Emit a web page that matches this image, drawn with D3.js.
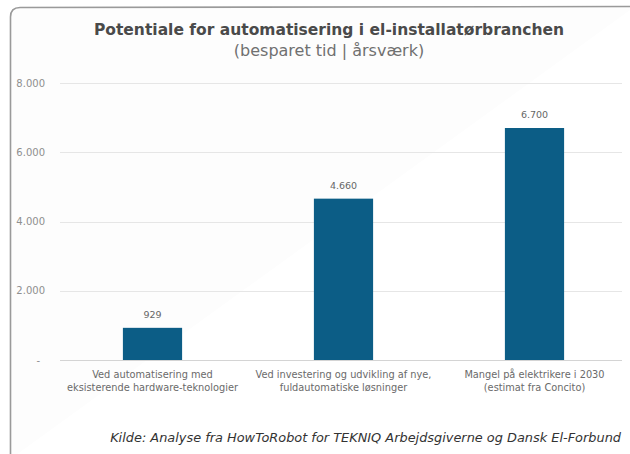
<!DOCTYPE html>
<html>
<head>
<meta charset="utf-8">
<script src="https://cdn.jsdelivr.net/npm/d3@7"></script>
<style>
  body { margin: 0; background: #fff; }
  svg { display: block; font-family: "DejaVu Sans", Verdana, sans-serif; }
</style>
</head>
<body>
<div id="chart"></div>
<script>
var categories = [
  ["Ved automatisering med", "eksisterende hardware-teknologier"],
  ["Ved investering og udvikling af nye,", "fuldautomatiske løsninger"],
  ["Mangel på elektrikere i 2030", "(estimat fra Concito)"]
];
var values = [929, 4660, 6700];
var valueLabels = ["929", "4.660", "6.700"];
var yTicks = [0, 2000, 4000, 6000, 8000];
var yTickLabels = ["-", "2.000", "4.000", "6.000", "8.000"];

var W = 630, H = 454;
var margin = {left: 57, right: 630, top: 83, bottom: 360};

var svg = d3.select("#chart").append("svg")
    .attr("width", W)
    .attr("height", H);

// card frame
svg.append("path")
    .attr("d", "M10.5," + (H + 5) + " L10.5,17 Q10.5,7.5 20,7.5 L" + (W + 5) + ",6.5")
    .attr("fill", "#fdfdfd")
    .attr("stroke", "#9a9a9a")
    .attr("stroke-width", 1.6);

var x = d3.scaleBand()
    .domain(d3.range(categories.length))
    .range([margin.left, margin.right])
    .paddingInner(0.69)
    .paddingOuter(0.345);

var y = d3.scaleLinear()
    .domain([0, 8000])
    .range([margin.bottom, margin.top]);

// gridlines
svg.append("g")
  .selectAll("line")
  .data(yTicks)
  .enter()
  .append("line")
    .attr("x1", 60)
    .attr("x2", 622)
    .attr("y1", function(d) { return Math.round(y(d)) + 0.5; })
    .attr("y2", function(d) { return Math.round(y(d)) + 0.5; })
    .attr("stroke", function(d) { return d === 0 ? "#d4d4d4" : "#e6e6e6"; })
    .attr("stroke-width", 1);

// y tick labels
svg.append("g")
  .selectAll("text")
  .data(yTicks)
  .enter()
  .append("text")
    .attr("x", function(d) { return d === 0 ? 40 : 45; })
    .attr("y", function(d) { return y(d) + 3.5; })
    .attr("text-anchor", "end")
    .attr("font-size", 10)
    .attr("fill", "#8f8f8f")
    .text(function(d, i) { return yTickLabels[i]; });

// bars
svg.selectAll(".bar")
    .data(values)
    .enter()
    .append("rect")
    .attr("class", "bar")
    .attr("x", function(d, i) { return x(i); })
    .attr("y", function(d) { return y(d); })
    .attr("width", x.bandwidth())
    .attr("height", function(d) { return y(0) - y(d); })
    .attr("fill", "#0c5d86");

// value labels
svg.selectAll(".vlabel")
    .data(values)
    .enter()
    .append("text")
    .attr("class", "vlabel")
    .attr("x", function(d, i) { return x(i) + x.bandwidth() / 2; })
    .attr("y", function(d) { return y(d) - 10; })
    .attr("text-anchor", "middle")
    .attr("font-size", 9.5)
    .attr("fill", "#666")
    .text(function(d, i) { return valueLabels[i]; });

// category labels
var cat = svg.selectAll(".cat")
    .data(categories)
    .enter()
    .append("text")
    .attr("class", "cat")
    .attr("text-anchor", "middle")
    .attr("font-size", 9.8)
    .attr("fill", "#6a6a6a");
cat.selectAll("tspan")
    .data(function(d, i) { return d.map(function(s) { return {s: s, i: i}; }); })
    .enter()
    .append("tspan")
    .attr("x", function(d) { return x(d.i) + x.bandwidth() / 2; })
    .attr("y", function(d, j) { return 378 + j * 13; })
    .text(function(d) { return d.s; });

// title
svg.append("text")
    .attr("x", 329)
    .attr("y", 35)
    .attr("text-anchor", "middle")
    .attr("font-size", 15.5)
    .attr("font-weight", "bold")
    .attr("fill", "#4a4a4a")
    .text("Potentiale for automatisering i el-installatørbranchen");

svg.append("text")
    .attr("x", 329)
    .attr("y", 56)
    .attr("text-anchor", "middle")
    .attr("font-size", 16)
    .attr("fill", "#707070")
    .text("(besparet tid | årsværk)");

// source
svg.append("text")
    .attr("x", 621)
    .attr("y", 442)
    .attr("text-anchor", "end")
    .attr("font-size", 12.9)
    .attr("font-style", "italic")
    .attr("fill", "#333")
    .text("Kilde: Analyse fra HowToRobot for TEKNIQ Arbejdsgiverne og Dansk El-Forbund");
</script>
</body>
</html>
